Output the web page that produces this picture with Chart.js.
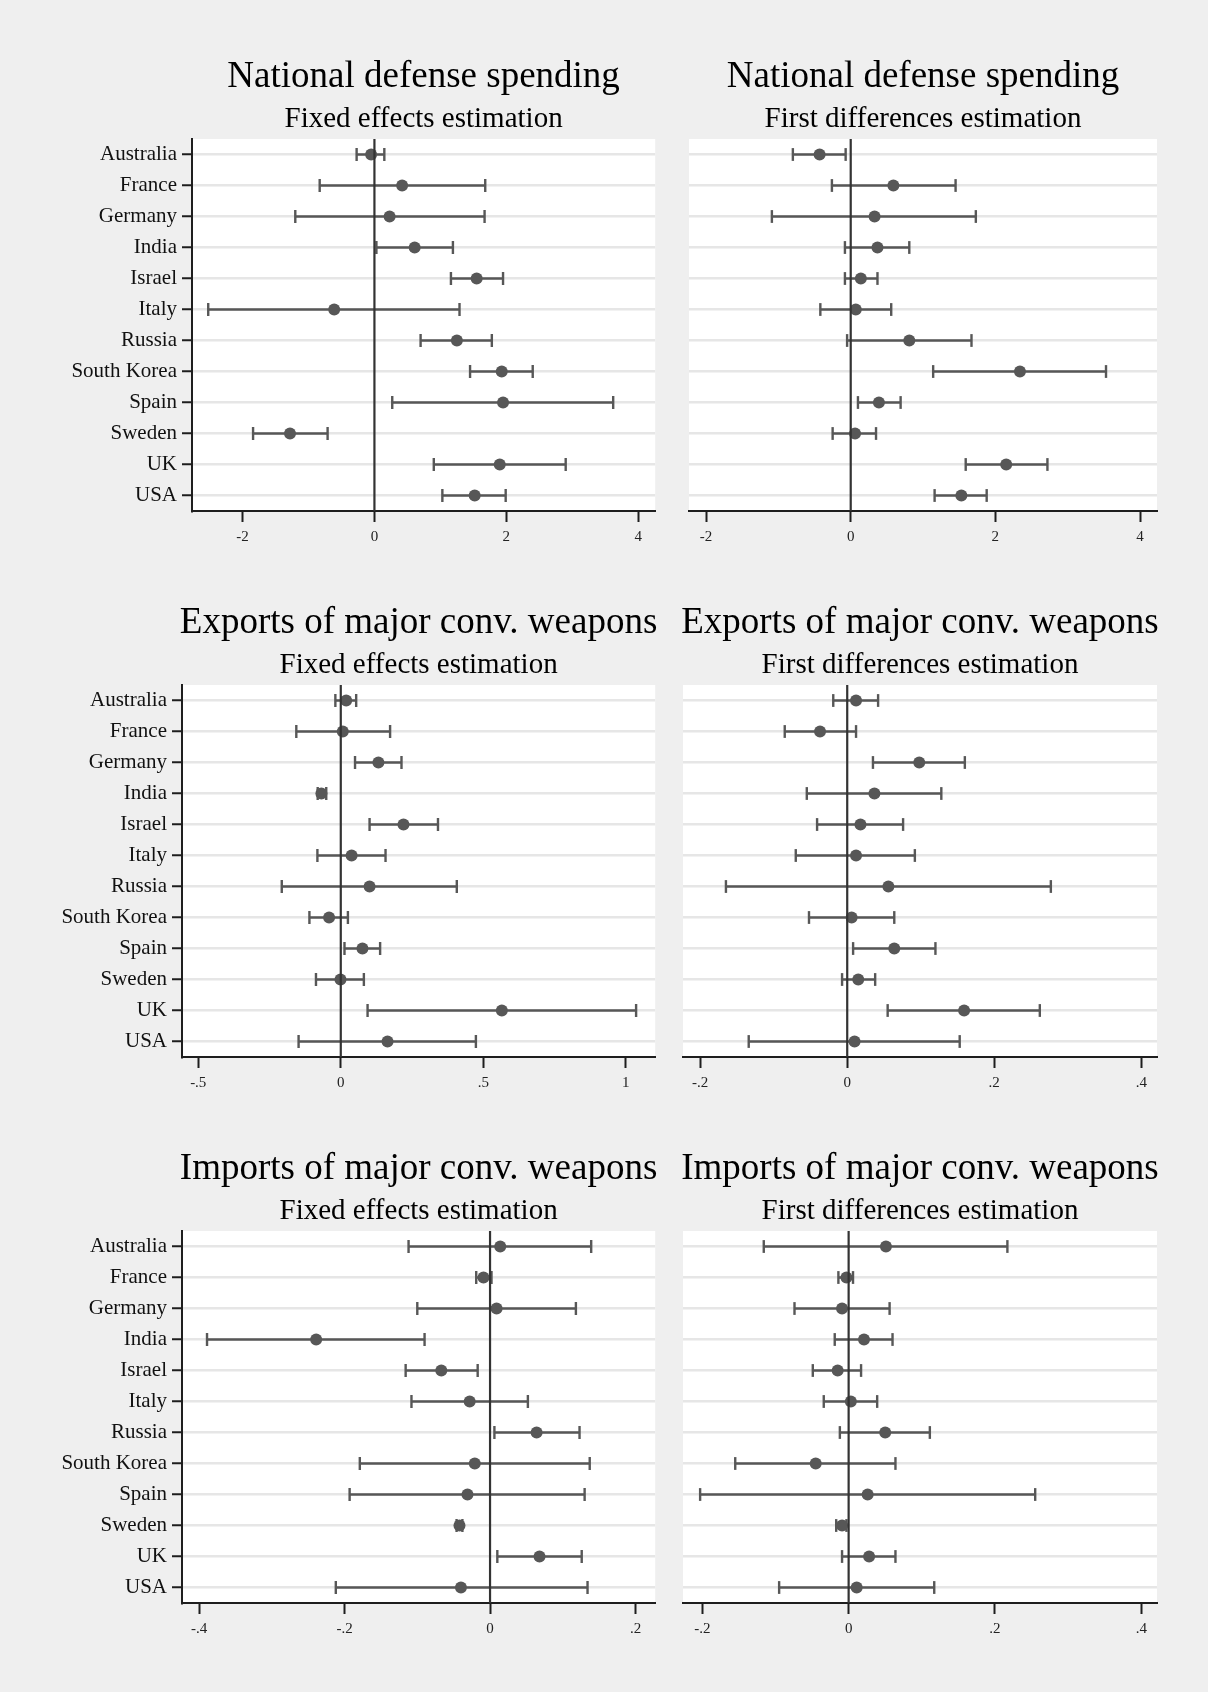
<!DOCTYPE html>
<html><head><meta charset="utf-8">
<script src="https://cdn.jsdelivr.net/npm/chart.js@4/dist/chart.umd.min.js"></script>
<style>
html,body{margin:0;padding:0;background:#efefef;}
body{width:1208px;height:1692px;position:relative;overflow:hidden;}
canvas{position:absolute;}
</style></head><body>
<canvas id="c0"></canvas><canvas id="c1"></canvas>
<canvas id="c2"></canvas><canvas id="c3"></canvas>
<canvas id="c4"></canvas><canvas id="c5"></canvas>
<script>
const countries = ['Australia','France','Germany','India','Israel','Italy','Russia','South Korea','Spain','Sweden','UK','USA'];

const defFE_est = [-0.05, 0.42, 0.23, 0.61, 1.55, -0.61, 1.25, 1.93, 1.95, -1.28, 1.90, 1.52];
const defFE_lo  = [-0.27, -0.83, -1.20, 0.03, 1.16, -2.52, 0.70, 1.45, 0.27, -1.84, 0.90, 1.03];
const defFE_hi  = [0.15, 1.68, 1.67, 1.19, 1.95, 1.29, 1.78, 2.40, 3.62, -0.71, 2.90, 1.99];

const defFD_est = [-0.43, 0.59, 0.33, 0.37, 0.14, 0.07, 0.81, 2.34, 0.39, 0.06, 2.15, 1.53];
const defFD_lo  = [-0.80, -0.26, -1.09, -0.08, -0.08, -0.42, -0.05, 1.14, 0.10, -0.25, 1.59, 1.16];
const defFD_hi  = [-0.07, 1.45, 1.73, 0.81, 0.37, 0.56, 1.67, 3.53, 0.69, 0.35, 2.72, 1.88];

const expFE_est = [0.019, 0.007, 0.132, -0.068, 0.220, 0.038, 0.101, -0.041, 0.076, -0.001, 0.565, 0.164];
const expFE_lo  = [-0.019, -0.156, 0.050, -0.081, 0.101, -0.082, -0.207, -0.110, 0.013, -0.087, 0.094, -0.148];
const expFE_hi  = [0.054, 0.173, 0.213, -0.051, 0.341, 0.157, 0.407, 0.025, 0.138, 0.081, 1.036, 0.474];

const expFD_est = [0.012, -0.037, 0.098, 0.037, 0.018, 0.012, 0.056, 0.006, 0.064, 0.015, 0.159, 0.010];
const expFD_lo  = [-0.019, -0.085, 0.035, -0.055, -0.041, -0.070, -0.165, -0.052, 0.008, -0.007, 0.055, -0.134];
const expFD_hi  = [0.042, 0.012, 0.160, 0.128, 0.076, 0.092, 0.277, 0.064, 0.120, 0.038, 0.262, 0.153];

const impFE_est = [0.014, -0.009, 0.009, -0.239, -0.067, -0.028, 0.064, -0.021, -0.031, -0.042, 0.068, -0.040];
const impFE_lo  = [-0.112, -0.019, -0.100, -0.389, -0.116, -0.108, 0.006, -0.179, -0.193, -0.046, 0.010, -0.212];
const impFE_hi  = [0.139, 0.002, 0.118, -0.090, -0.017, 0.052, 0.123, 0.137, 0.130, -0.038, 0.126, 0.134];

const impFD_est = [0.051, -0.003, -0.009, 0.021, -0.015, 0.003, 0.050, -0.045, 0.026, -0.009, 0.028, 0.011];
const impFD_lo  = [-0.116, -0.014, -0.074, -0.019, -0.049, -0.034, -0.012, -0.155, -0.203, -0.017, -0.009, -0.095];
const impFD_hi  = [0.217, 0.006, 0.056, 0.060, 0.017, 0.039, 0.111, 0.064, 0.255, -0.003, 0.064, 0.117];

const defTicks = [-2, 0, 2, 4];
const defTickLabels = ['-2', '0', '2', '4'];
const expFETicks = [-0.5, 0, 0.5, 1];
const expFETickLabels = ['-.5', '0', '.5', '1'];
const fdTicks = [-0.2, 0, 0.2, 0.4];
const fdTickLabels = ['-.2', '0', '.2', '.4'];
const impFETicks = [-0.4, -0.2, 0, 0.2];
const impFETickLabels = ['-.4', '-.2', '0', '.2'];

const titleDef = 'National defense spending';
const titleExp = 'Exports of major conv. weapons';
const titleImp = 'Imports of major conv. weapons';
const subFE = 'Fixed effects estimation';
const subFD = 'First differences estimation';

const SERIF = '"Liberation Serif", "Times New Roman", serif';
const CI_COLOR = '#575757';
const PT_COLOR = '#575757';
const AXIS_COLOR = '#1e1e1e';

const panels = [
  {id:'c0', title:titleDef, sub:subFE, est:defFE_est, lo:defFE_lo, hi:defFE_hi, min:-2.766, max:4.257, ticks:defTicks, tl:defTickLabels, left:0, top:39, width:664, yw:192, padR:4, labels:true},
  {id:'c1', title:titleDef, sub:subFD, est:defFD_est, lo:defFD_lo, hi:defFD_hi, min:-2.236, max:4.235, ticks:defTicks, tl:defTickLabels, left:664, top:39, width:544, yw:25, padR:51, labels:false},
  {id:'c2', title:titleExp, sub:subFE, est:expFE_est, lo:expFE_lo, hi:expFE_hi, min:-0.557, max:1.103, ticks:expFETicks, tl:expFETickLabels, left:0, top:585, width:664, yw:182, padR:4, labels:true},
  {id:'c3', title:titleExp, sub:subFD, est:expFD_est, lo:expFD_lo, hi:expFD_hi, min:-0.2234, max:0.4214, ticks:fdTicks, tl:fdTickLabels, left:664, top:585, width:544, yw:19, padR:51, labels:false},
  {id:'c4', title:titleImp, sub:subFE, est:impFE_est, lo:impFE_lo, hi:impFE_hi, min:-0.4234, max:0.227, ticks:impFETicks, tl:impFETickLabels, left:0, top:1131, width:664, yw:182, padR:4, labels:true},
  {id:'c5', title:titleImp, sub:subFD, est:impFD_est, lo:impFD_lo, hi:impFD_hi, min:-0.2264, max:0.4215, ticks:fdTicks, tl:fdTickLabels, left:664, top:1131, width:544, yw:19, padR:51, labels:false}
];

const PLOT_TOP = 100, PLOT_H = 372, XAXIS_H = 50;

const panelDeco = {
  id: 'panelDeco',
  beforeDraw(chart) {
    const a = chart.chartArea, c = chart.ctx;
    c.save();
    c.fillStyle = '#ffffff';
    c.fillRect(a.left, a.top, a.right - a.left, a.bottom - a.top);
    c.restore();
  },
  afterDraw(chart, args, opts) {
    const a = chart.chartArea, c = chart.ctx;
    const cx = (a.left + a.right) / 2;
    c.save();
    c.fillStyle = '#000000';
    c.textAlign = 'center';
    c.textBaseline = 'alphabetic';
    c.font = '37px ' + SERIF;
    c.fillText(opts.title, cx, a.top - 52);
    c.font = '29px ' + SERIF;
    c.fillText(opts.sub, cx, a.top - 12);
    c.restore();
  }
};

panels.forEach(p => {
  const cv = document.getElementById(p.id);
  cv.width = p.width;
  cv.height = PLOT_TOP + PLOT_H + XAXIS_H;
  cv.style.left = p.left + 'px';
  cv.style.top = p.top + 'px';

  const datasets = [];
  datasets.push({
    data: [{x: 0, y: -0.5}, {x: 0, y: 11.5}],
    showLine: true, borderColor: '#333333', borderWidth: 2.2, pointRadius: 0
  });
  countries.forEach((c, i) => {
    datasets.push({
      data: [{x: p.lo[i], y: i}, {x: p.hi[i], y: i}],
      showLine: true, borderColor: CI_COLOR, borderWidth: 2.6,
      pointStyle: 'line', pointRotation: 90, pointRadius: 6.4,
      pointBorderWidth: 2.4, pointBorderColor: CI_COLOR, pointBackgroundColor: CI_COLOR
    });
  });
  datasets.push({
    data: p.est.map((v, i) => ({x: v, y: i})),
    showLine: false, pointRadius: 6, pointStyle: 'circle',
    pointBackgroundColor: PT_COLOR, pointBorderWidth: 0, pointBorderColor: PT_COLOR
  });

  new Chart(cv, {
    type: 'scatter',
    data: { datasets },
    options: {
      responsive: false,
      animation: false,
      devicePixelRatio: 1,
      layout: { padding: { top: PLOT_TOP, right: p.padR, bottom: 0, left: 0 } },
      plugins: {
        legend: { display: false },
        tooltip: { enabled: false },
        panelDeco: { title: p.title, sub: p.sub }
      },
      scales: {
        x: {
          type: 'linear', min: p.min, max: p.max,
          afterBuildTicks: s => { s.ticks = p.ticks.map(v => ({value: v})); },
          afterFit: s => { s.height = XAXIS_H; },
          ticks: {
            callback: (v) => p.tl[p.ticks.indexOf(v)],
            font: { family: SERIF, size: 15 }, color: '#222222',
            padding: 6, maxRotation: 0, autoSkip: false
          },
          grid: { drawOnChartArea: false, drawTicks: true, tickLength: 11, tickWidth: 2, tickColor: AXIS_COLOR, color: AXIS_COLOR },
          border: { display: true, color: AXIS_COLOR, width: 2 }
        },
        y: {
          type: 'linear', reverse: true, min: -0.5, max: 11.5,
          afterBuildTicks: s => { s.ticks = countries.map((c, i) => ({value: i})); },
          afterFit: s => { s.width = p.yw; },
          ticks: {
            display: p.labels,
            callback: (v) => countries[v],
            font: { family: SERIF, size: 21 }, color: '#111111',
            padding: 5, autoSkip: false
          },
          grid: { color: '#e6e6e6', lineWidth: 2.5, drawTicks: p.labels, tickLength: 10, tickWidth: 2, tickColor: AXIS_COLOR },
          border: { display: p.labels, color: AXIS_COLOR, width: 2 }
        }
      }
    },
    plugins: [panelDeco]
  });
});
</script>
</body></html>
